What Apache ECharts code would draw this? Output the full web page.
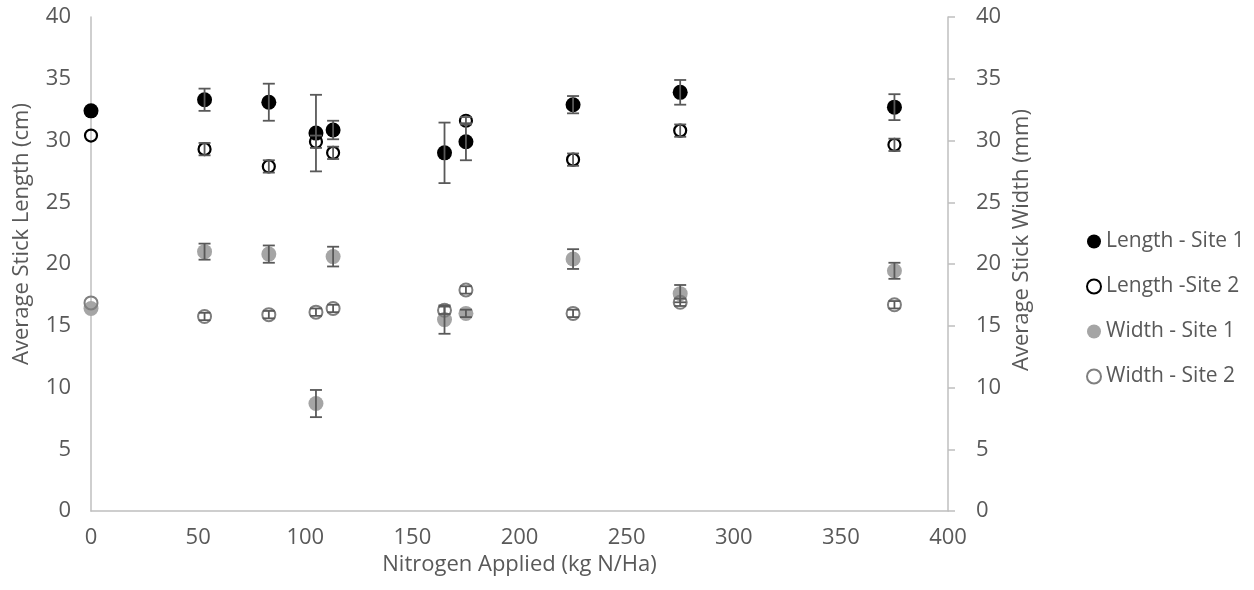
<!DOCTYPE html>
<html>
<head>
<meta charset="utf-8">
<script src="https://cdn.jsdelivr.net/npm/echarts@6/dist/echarts.min.js"></script>
<style>
  html, body { margin: 0; padding: 0; background: #ffffff; }
  #chart { width: 1254px; height: 590px; }
</style>
</head>
<body>
<div id="chart"></div>
<script>
// ---- data ----
const nitrogen = [0, 53, 83, 105, 113, 165, 175, 225, 275, 375];

const lengthSite1    = [32.4, 33.3, 33.1, 30.6, 30.85, 29.0, 29.9, 32.9, 33.9, 32.7];
const lengthSite1Err = [0,    0.9,  1.5,  3.1,  0.75,  2.45, 1.5,  0.7,  1.0,  1.05];

const nitrogenSite2  = [0, 53, 83, 105, 113, 175, 225, 275, 375];
const lengthSite2    = [30.4, 29.3, 27.9, 29.9, 29.0, 31.6, 28.45, 30.8, 29.65];
const lengthSite2Err = [0,    0.5,  0.5,  0.5,  0.5,  0.3,  0.5,   0.5,  0.5];

const widthSite1     = [16.4, 21.0, 20.8, 8.7, 20.6, 15.5, 16.0, 20.4, 17.6, 19.45];
const widthSite1Err  = [0,    0.65,  0.7,  1.1, 0.8,  1.15, 0.3,  0.8,  0.7,  0.65];

const widthSite2     = [16.85, 15.75, 15.9, 16.1, 16.4, 16.25, 17.9, 16.0, 16.9, 16.7];
const widthSite2Err  = [0,     0.3,   0.3,  0.3,  0.3,  0.3,   0.3,  0.3,  0.3,  0.3];

const seriesNames = ['Length - Site 1', 'Length -Site 2', 'Width - Site 1', 'Width - Site 2'];
const xTitle = 'Nitrogen Applied (kg N/Ha)';
const yLeftTitle = 'Average Stick Length (cm)';
const yRightTitle = 'Average Stick Width (mm)';

// ---- helpers ----
const pairs = (xs, ys) => xs.map((x, i) => [x, ys[i]]);
const errs = (xs, ys, es) => xs.map((x, i) => [x, ys[i] - es[i], ys[i] + es[i]]);

const FONT = 'Open Sans';
const TEXT = '#595959';
const AXIS = '#BFBFBF';
const ERR = '#595959';

function errorBarSeries(data, yAxisIndex) {
  return {
    type: 'custom',
    yAxisIndex: yAxisIndex,
    z: 10,
    silent: true,
    data: data,
    encode: { x: 0, y: [1, 2] },
    renderItem: function (params, api) {
      const x = api.value(0);
      const lo = api.coord([x, api.value(1)]);
      const hi = api.coord([x, api.value(2)]);
      if (Math.abs(lo[1] - hi[1]) < 0.5) return { type: 'group', children: [] };
      const half = 6;
      const st = { stroke: ERR, lineWidth: 1.8 };
      return {
        type: 'group',
        children: [
          { type: 'line', shape: { x1: lo[0], y1: lo[1], x2: hi[0], y2: hi[1] }, style: st },
          { type: 'line', shape: { x1: lo[0] - half, y1: lo[1], x2: lo[0] + half, y2: lo[1] }, style: st },
          { type: 'line', shape: { x1: hi[0] - half, y1: hi[1], x2: hi[0] + half, y2: hi[1] }, style: st }
        ]
      };
    }
  };
}

const chart = echarts.init(document.getElementById('chart'), null, { renderer: 'canvas' });

const option = {
  backgroundColor: '#ffffff',
  animation: false,
  textStyle: { fontFamily: FONT },
  grid: { left: 91, right: 306, top: 17, bottom: 79 },
  legend: {
    orient: 'vertical',
    left: 1081,
    top: 226,
    itemWidth: 14,
    itemHeight: 14,
    itemGap: 24,
    data: seriesNames,
    textStyle: { color: TEXT, fontSize: 21, fontFamily: FONT, lineHeight: 21 }
  },
  xAxis: {
    type: 'value',
    min: 0, max: 400, interval: 50,
    name: xTitle,
    nameLocation: 'middle',
    nameGap: 41,
    nameTextStyle: { color: TEXT, fontSize: 22, fontFamily: FONT },
    axisLine: { show: true, onZero: false, lineStyle: { color: AXIS, width: 1.5 } },
    axisTick: { show: false },
    splitLine: { show: false },
    axisLabel: { color: TEXT, fontSize: 22, fontFamily: FONT, margin: 16 }
  },
  yAxis: [
    {
      type: 'value',
      min: 0, max: 40, interval: 5,
      position: 'left',
      axisLine: { show: true, onZero: false, lineStyle: { color: AXIS, width: 1.5 } },
      axisTick: { show: false },
      splitLine: { show: false },
      axisLabel: { color: TEXT, fontSize: 22, fontFamily: FONT, margin: 20 }
    },
    {
      type: 'value',
      min: 0, max: 40, interval: 5,
      position: 'right',
      axisLine: { show: true, onZero: false, lineStyle: { color: AXIS, width: 1.5 } },
      axisTick: { show: true, inside: false, length: 7, lineStyle: { color: AXIS, width: 1.5 } },
      splitLine: { show: false },
      axisLabel: { color: TEXT, fontSize: 22, fontFamily: FONT, margin: 28 }
    }
  ],
  graphic: [
    {
      type: 'text', x: 22, y: 234, rotation: Math.PI / 2,
      style: { text: yLeftTitle, fill: TEXT, fontSize: 22, fontFamily: FONT, textAlign: 'center', textVerticalAlign: 'middle' }
    },
    {
      type: 'text', x: 1022, y: 240, rotation: Math.PI / 2,
      style: { text: yRightTitle, fill: TEXT, fontSize: 22, fontFamily: FONT, textAlign: 'center', textVerticalAlign: 'middle' }
    }
  ],
  series: [
    {
      name: seriesNames[0],
      type: 'scatter',
      yAxisIndex: 0,
      z: 4,
      symbol: 'circle',
      symbolSize: 15,
      itemStyle: { color: '#000000', opacity: 1 },
      data: pairs(nitrogen, lengthSite1)
    },
    {
      name: seriesNames[1],
      type: 'scatter',
      yAxisIndex: 0,
      z: 3,
      symbol: 'circle',
      symbolSize: 12,
      itemStyle: { color: 'rgba(255,255,255,0)', borderColor: '#000000', borderWidth: 2.2, opacity: 1 },
      data: pairs(nitrogenSite2, lengthSite2)
    },
    {
      name: seriesNames[2],
      type: 'scatter',
      yAxisIndex: 1,
      z: 3,
      symbol: 'circle',
      symbolSize: 15,
      itemStyle: { color: '#A5A5A5', opacity: 1 },
      data: pairs(nitrogen, widthSite1)
    },
    {
      name: seriesNames[3],
      type: 'scatter',
      yAxisIndex: 1,
      z: 4,
      symbol: 'circle',
      symbolSize: 13,
      itemStyle: { color: 'rgba(255,255,255,0)', borderColor: '#7F7F7F', borderWidth: 2, opacity: 1 },
      data: pairs(nitrogen, widthSite2)
    },
    errorBarSeries(errs(nitrogen, lengthSite1, lengthSite1Err), 0),
    errorBarSeries(errs(nitrogenSite2, lengthSite2, lengthSite2Err), 0),
    errorBarSeries(errs(nitrogen, widthSite1, widthSite1Err), 1),
    errorBarSeries(errs(nitrogen, widthSite2, widthSite2Err), 1)
  ]
};

chart.setOption(option);
</script>
</body>
</html>
